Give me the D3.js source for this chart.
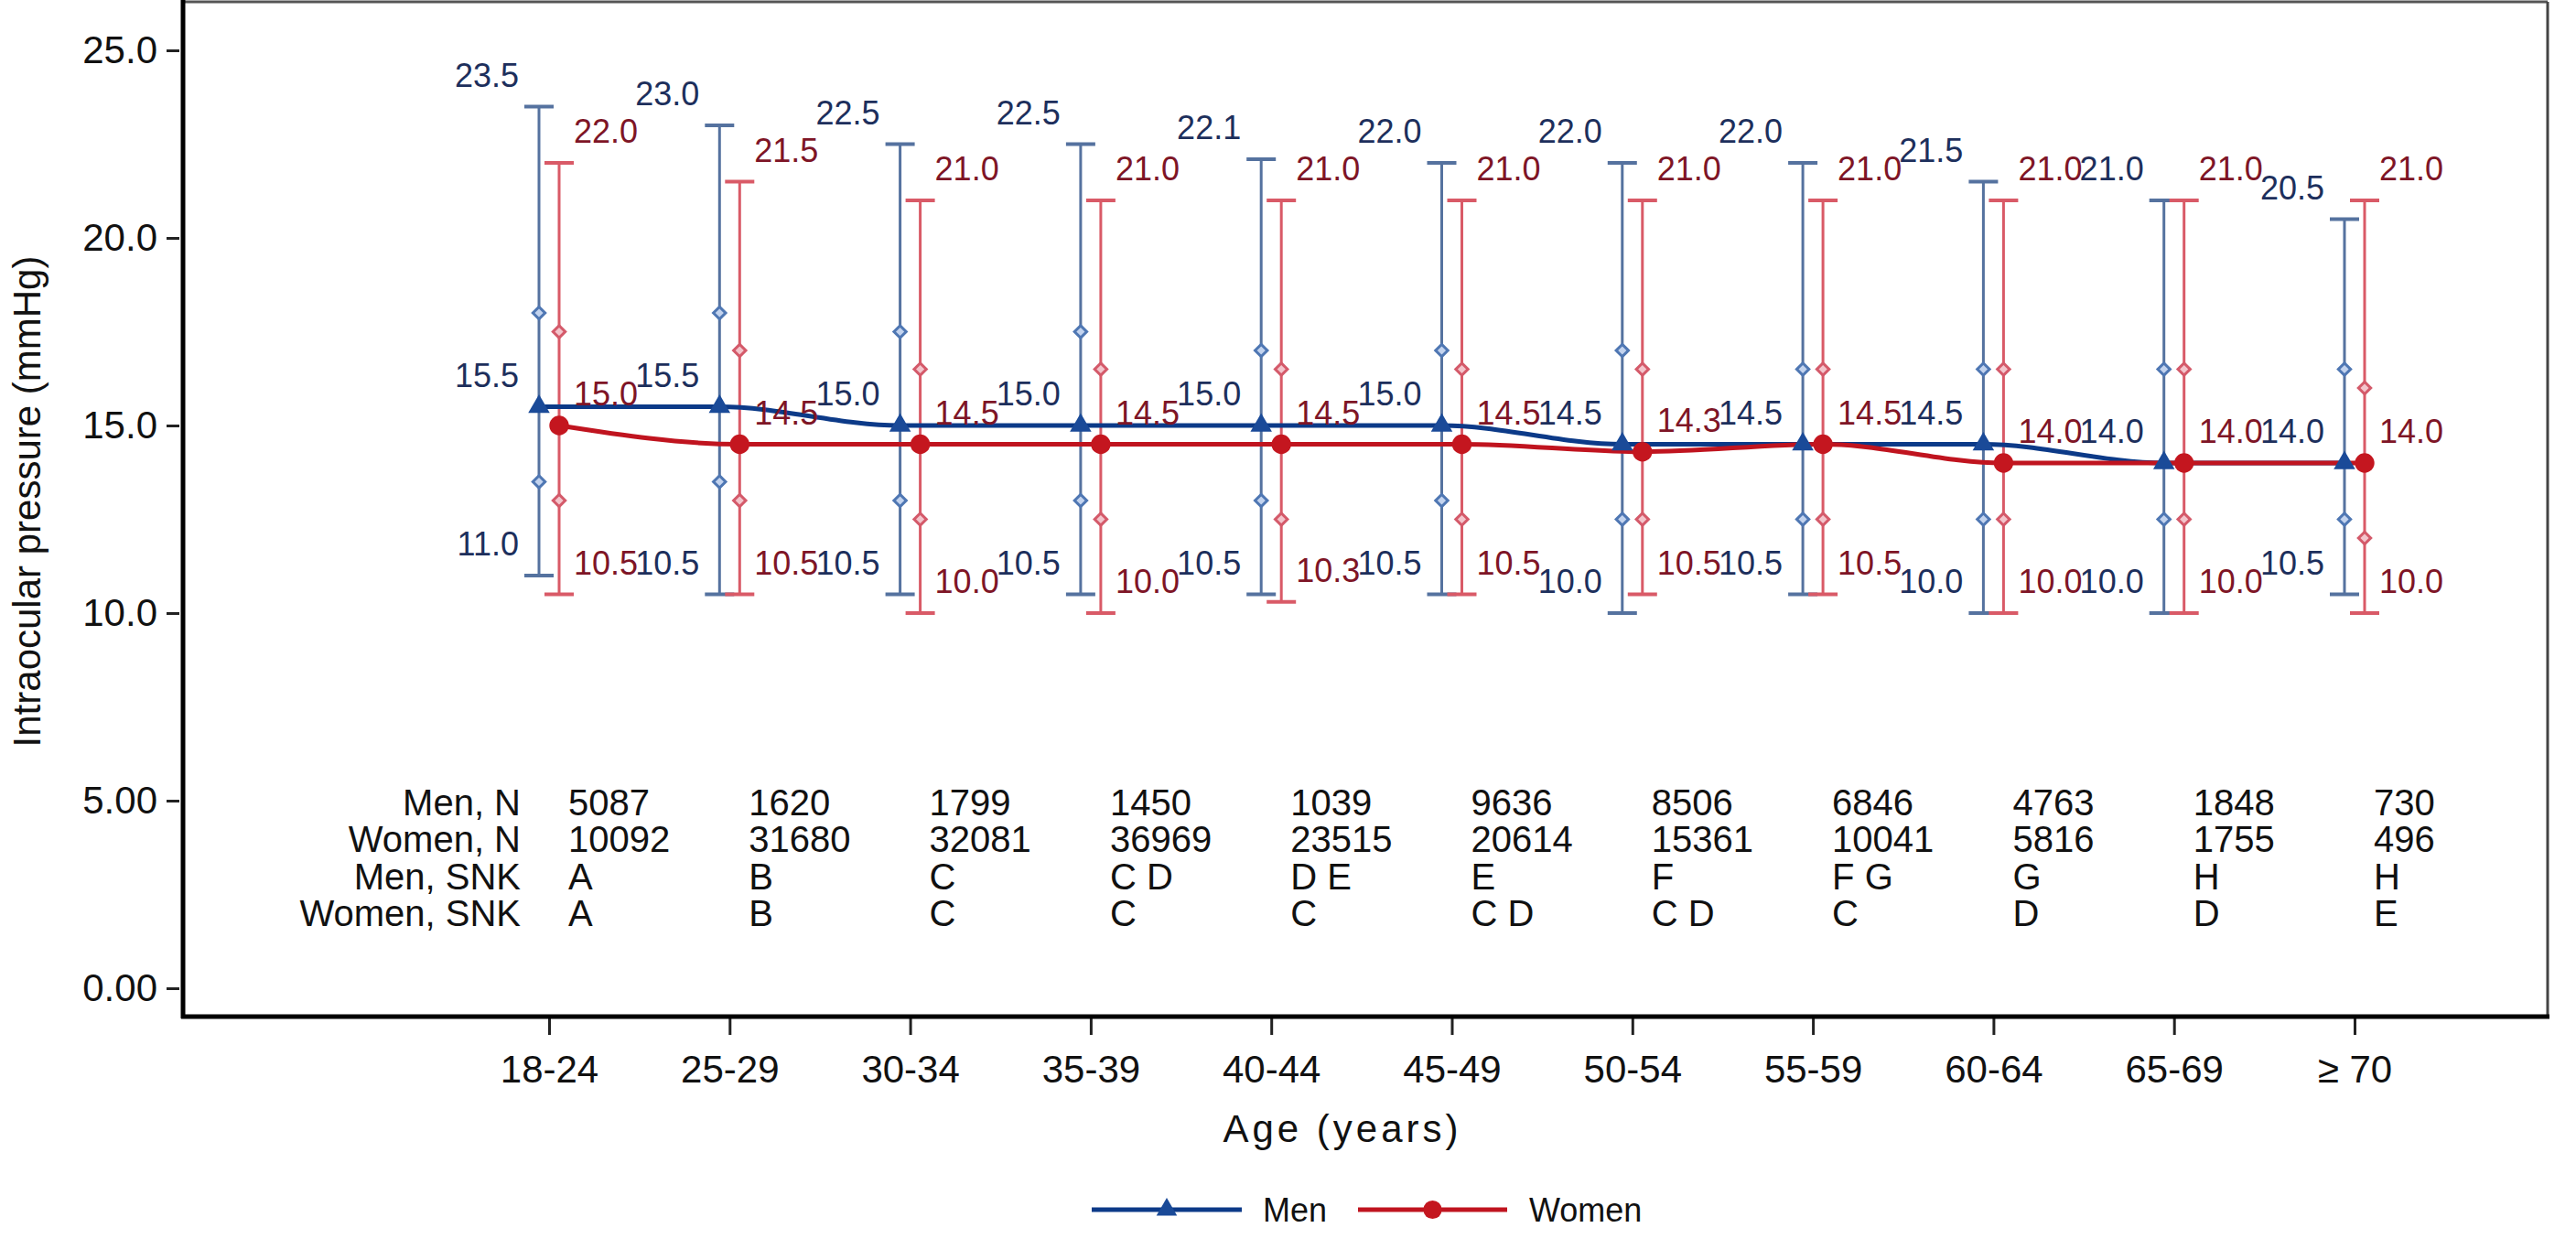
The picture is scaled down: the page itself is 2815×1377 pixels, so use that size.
<!DOCTYPE html>
<html>
<head>
<meta charset="utf-8">
<script src="https://cdn.jsdelivr.net/npm/d3@7"></script>
<style>
  html, body { margin: 0; padding: 0; background: #fff; }
  svg { display: block; font-family: "Liberation Sans", Arial, sans-serif; }
  .eje-y text, .eje-x text { font-size: 42px; fill: #111; }
  .eje-y line, .eje-x line { stroke: #222; stroke-width: 3; }
  .tabla text { font-size: 40px; fill: #111; }
  .etiqueta { font-size: 36px; }
</style>
</head>
<body>
<div id="chart"></div>
<script>
// Grupos de edad
const grupos = ["18-24", "25-29", "30-34", "35-39", "40-44", "45-49", "50-54", "55-59", "60-64", "65-69", "\u2265 70"];

// Hombres: bigote superior, Q3, media, Q1, bigote inferior
const hombresSup   = [23.5, 23.0, 22.5, 22.5, 22.1, 22.0, 22.0, 22.0, 21.5, 21.0, 20.5];
const hombresQ3    = [18.0, 18.0, 17.5, 17.5, 17.0, 17.0, 17.0, 16.5, 16.5, 16.5, 16.5];
const hombresMedia = [15.5, 15.5, 15.0, 15.0, 15.0, 15.0, 14.5, 14.5, 14.5, 14.0, 14.0];
const hombresQ1    = [13.5, 13.5, 13.0, 13.0, 13.0, 13.0, 12.5, 12.5, 12.5, 12.5, 12.5];
const hombresInf   = [11.0, 10.5, 10.5, 10.5, 10.5, 10.5, 10.0, 10.5, 10.0, 10.0, 10.5];

// Mujeres
const mujeresSup   = [22.0, 21.5, 21.0, 21.0, 21.0, 21.0, 21.0, 21.0, 21.0, 21.0, 21.0];
const mujeresQ3    = [17.5, 17.0, 16.5, 16.5, 16.5, 16.5, 16.5, 16.5, 16.5, 16.5, 16.0];
const mujeresMedia = [15.0, 14.5, 14.5, 14.5, 14.5, 14.5, 14.3, 14.5, 14.0, 14.0, 14.0];
const mujeresQ1    = [13.0, 13.0, 12.5, 12.5, 12.5, 12.5, 12.5, 12.5, 12.5, 12.5, 12.0];
const mujeresInf   = [10.5, 10.5, 10.0, 10.0, 10.3, 10.5, 10.5, 10.5, 10.0, 10.0, 10.0];

// Tabla inferior
const hombresN   = ["5087", "1620", "1799", "1450", "1039", "9636", "8506", "6846", "4763", "1848", "730"];
const mujeresN   = ["10092", "31680", "32081", "36969", "23515", "20614", "15361", "10041", "5816", "1755", "496"];
const hombresSNK = ["A", "B", "C", "C D", "D E", "E", "F", "F G", "G", "H", "H"];
const mujeresSNK = ["A", "B", "C", "C", "C", "C D", "C D", "C", "D", "D", "E"];
const filasTabla = ["Men, N", "Women, N", "Men, SNK", "Women, SNK"];

// Eje Y
const ticksY = [0, 5, 10, 15, 20, 25];
const etiquetasY = ["0.00", "5.00", "10.0", "15.0", "20.0", "25.0"];

const series = [
  { nombre: "Men", sup: hombresSup, q3: hombresQ3, media: hombresMedia, q1: hombresQ1, inf: hombresInf,
    desplazamiento: -11, linea: "#0c3a88", barra: "#55729f", texto: "#1d2f5c",
    marcaBorde: "#4f77b3", marcaRelleno: "#c3d3ee", punto: "#1a4a98" },
  { nombre: "Women", sup: mujeresSup, q3: mujeresQ3, media: mujeresMedia, q1: mujeresQ1, inf: mujeresInf,
    desplazamiento: 11, linea: "#c0141f", barra: "#d95a67", texto: "#7e1526",
    marcaBorde: "#d45a6a", marcaRelleno: "#f3c5cc", punto: "#c4161f" }
];

const width = 2815;
const height = 1377;
const marco = { izq: 200, der: 2784, arriba: 2, abajo: 1111 };

const fmt = d3.format(".1f");

function dibujarGrafico() {
  const svg = d3.select("#chart").append("svg")
    .attr("width", width)
    .attr("height", height)
    .attr("viewBox", [0, 0, width, height]);

  svg.append("rect").attr("width", width).attr("height", height).attr("fill", "#fff");

  const x = d3.scalePoint().domain(grupos).range([600, 2573]);
  const y = d3.scaleLinear().domain([0, 25]).range([1080, 55]);

  // marco: arriba y derecha finos, izquierda y abajo gruesos
  svg.append("line")
    .attr("x1", marco.izq).attr("x2", marco.der).attr("y1", marco.arriba).attr("y2", marco.arriba)
    .attr("stroke", "#555").attr("stroke-width", 3);
  svg.append("line")
    .attr("x1", marco.der).attr("x2", marco.der).attr("y1", marco.arriba).attr("y2", marco.abajo)
    .attr("stroke", "#444").attr("stroke-width", 3);

  // ejes
  const ejeY = svg.append("g")
    .attr("class", "eje-y")
    .attr("transform", `translate(${marco.izq - 4},0)`)
    .call(d3.axisLeft(y).tickValues(ticksY).tickFormat((d, i) => etiquetasY[i]).tickSize(14).tickPadding(10));
  ejeY.select(".domain").remove();

  const ejeX = svg.append("g")
    .attr("class", "eje-x")
    .attr("transform", `translate(0,${marco.abajo})`)
    .call(d3.axisBottom(x).tickSize(20).tickPadding(22));
  ejeX.select(".domain").remove();

  svg.append("line")
    .attr("x1", marco.izq).attr("x2", marco.izq).attr("y1", 0).attr("y2", marco.abajo + 2)
    .attr("stroke", "#000").attr("stroke-width", 5);
  svg.append("line")
    .attr("x1", marco.izq - 2).attr("x2", marco.der + 2).attr("y1", marco.abajo).attr("y2", marco.abajo)
    .attr("stroke", "#000").attr("stroke-width", 5);

  // títulos de ejes
  svg.append("text")
    .attr("transform", "translate(44,548) rotate(-90)")
    .attr("text-anchor", "middle")
    .style("font-size", "42px")
    .attr("fill", "#111")
    .text("Intraocular pressure (mmHg)");

  svg.append("text")
    .attr("x", 1467).attr("y", 1248)
    .attr("text-anchor", "middle")
    .style("font-size", "42px")
    .style("letter-spacing", "4px")
    .attr("fill", "#111")
    .text("Age (years)");

  const capa = svg.append("g");

  // barras de error
  const rombo = d3.symbol(d3.symbolSquare, 90);
  series.forEach(s => {
    const g = capa.append("g");
    grupos.forEach((grupo, i) => {
      const cx = x(grupo) + s.desplazamiento;
      g.append("line")
        .attr("x1", cx).attr("x2", cx).attr("y1", y(s.sup[i])).attr("y2", y(s.inf[i]))
        .attr("stroke", s.barra).attr("stroke-width", 3);
      [s.sup[i], s.inf[i]].forEach(v => {
        g.append("line")
          .attr("x1", cx - 16).attr("x2", cx + 16).attr("y1", y(v)).attr("y2", y(v))
          .attr("stroke", s.barra).attr("stroke-width", 4);
      });
      [s.q3[i], s.q1[i]].forEach(v => {
        g.append("path")
          .attr("d", rombo())
          .attr("transform", `translate(${cx},${y(v)}) rotate(45)`)
          .attr("fill", s.marcaRelleno)
          .attr("stroke", s.marcaBorde)
          .attr("stroke-width", 3);
      });
    });
  });

  // líneas de medias
  const linea = d3.line()
    .x(d => d.x)
    .y(d => y(d.v))
    .curve(d3.curveMonotoneX);

  series.forEach(s => {
    const puntos = grupos.map((grupo, i) => ({ x: x(grupo) + s.desplazamiento, v: s.media[i] }));
    capa.append("path")
      .datum(puntos)
      .attr("d", linea)
      .attr("fill", "none")
      .attr("stroke", s.linea)
      .attr("stroke-width", 5);
  });

  // marcadores de medias
  series.forEach((s, k) => {
    const simbolo = k === 0 ? d3.symbol(d3.symbolTriangle, 240) : d3.symbol(d3.symbolCircle, 360);
    grupos.forEach((grupo, i) => {
      capa.append("path")
        .attr("d", simbolo())
        .attr("transform", `translate(${x(grupo) + s.desplazamiento},${y(s.media[i])})`)
        .attr("fill", s.punto);
    });
  });

  // etiquetas de valores
  series.forEach((s, k) => {
    grupos.forEach((grupo, i) => {
      const cx = x(grupo) + s.desplazamiento;
      [s.sup[i], s.media[i], s.inf[i]].forEach(v => {
        capa.append("text")
          .attr("class", "etiqueta")
          .attr("x", k === 0 ? cx - 22 : cx + 16)
          .attr("y", y(v) - 22)
          .attr("text-anchor", k === 0 ? "end" : "start")
          .attr("fill", s.texto)
          .text(fmt(v));
      });
    });
  });

  // tabla de N y SNK
  const tabla = svg.append("g").attr("class", "tabla");
  const filas = [hombresN, mujeresN, hombresSNK, mujeresSNK];
  const baseFilas = d3.scaleLinear().domain([0, 3]).range([891, 1012]);

  filasTabla.forEach((nombre, f) => {
    tabla.append("text")
      .attr("x", 569).attr("y", baseFilas(f))
      .attr("text-anchor", "end")
      .text(nombre);
    grupos.forEach((grupo, i) => {
      tabla.append("text")
        .attr("x", x(grupo) + 21).attr("y", baseFilas(f))
        .text(filas[f][i]);
    });
  });

  // leyenda
  const leyenda = svg.append("g").attr("transform", "translate(0,1322)");
  const itemsLeyenda = [
    { serie: series[0], x0: 1193, x1: 1357, texto: 1380 },
    { serie: series[1], x0: 1484, x1: 1647, texto: 1671 }
  ];
  itemsLeyenda.forEach((it, k) => {
    leyenda.append("line")
      .attr("x1", it.x0).attr("x2", it.x1)
      .attr("stroke", it.serie.linea).attr("stroke-width", 5);
    const simbolo = k === 0 ? d3.symbol(d3.symbolTriangle, 220) : d3.symbol(d3.symbolCircle, 320);
    leyenda.append("path")
      .attr("d", simbolo())
      .attr("transform", `translate(${(it.x0 + it.x1) / 2},0)`)
      .attr("fill", it.serie.punto);
    leyenda.append("text")
      .attr("x", it.texto).attr("y", 13)
      .style("font-size", "36px")
      .attr("fill", "#111")
      .text(it.serie.nombre);
  });
}

dibujarGrafico();
</script>
</body>
</html>
